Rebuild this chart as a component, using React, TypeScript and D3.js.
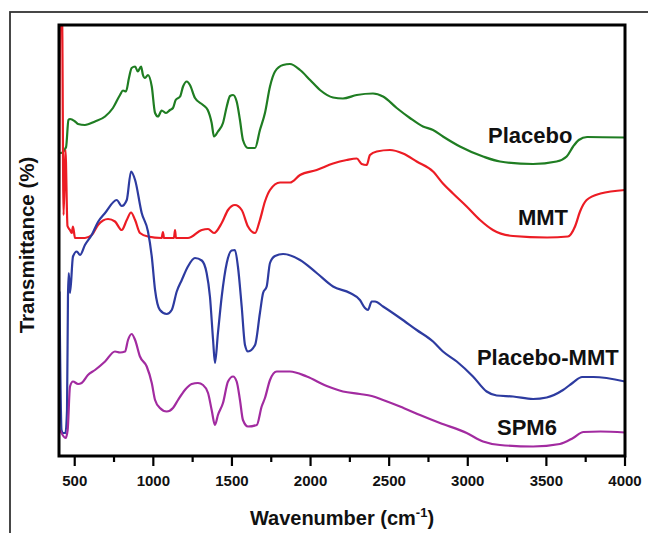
import React from "react";
import * as d3 from "d3";

type Pt = [number, number];

// wavenumber (cm-1), transmittance (offset, a.u.)
const placebo: Pt[] = [
  [406, 60.6], [413, 60.6], [445, 61.8], [460, 67.2], [470, 67.4], [502, 66.9], [521, 66.4], [565, 66.2],
  [629, 66.9], [693, 67.9], [743, 69.6], [788, 72.2], [807, 73.1], [826, 72.9], [845, 75.6], [862, 77.6],
  [884, 77.9], [901, 76.9], [922, 77.9], [934, 76.2], [947, 75.6], [966, 76.2], [990, 73.9], [1011, 68.6],
  [1030, 67.9], [1053, 69.1], [1081, 68.6], [1106, 69.2], [1125, 69.6], [1142, 71.2], [1170, 71.9],
  [1189, 73.9], [1213, 74.9], [1233, 74.2], [1265, 71.6], [1316, 70.2], [1346, 69.2], [1371, 66.6],
  [1386, 63.9], [1411, 64.9], [1443, 66.6], [1467, 69.9], [1488, 72.0], [1507, 72.2], [1530, 70.9],
  [1551, 67.2], [1570, 63.2], [1602, 61.6], [1647, 61.6], [1678, 65.2], [1710, 68.6], [1742, 73.9],
  [1774, 76.9], [1825, 78.2], [1869, 78.4], [1933, 77.2], [1997, 75.2], [2060, 73.2], [2143, 71.7],
  [2206, 71.5], [2294, 72.2], [2397, 72.5], [2461, 71.9], [2548, 69.6], [2632, 67.6], [2715, 65.9],
  [2779, 65.2], [2842, 63.9], [2950, 61.9], [3097, 59.9], [3205, 58.9], [3415, 58.4], [3565, 58.9],
  [3629, 59.9], [3670, 61.9], [3706, 63.2], [3759, 63.8], [4000, 63.7],
];

const mmt: Pt[] = [
  [400, 48.8], [410, 90], [419, 90], [429, 48.2], [441, 61.2], [454, 46.0], [470, 45.2], [481, 44.6],
  [489, 45.9], [502, 43.6], [565, 43.6], [608, 44.2], [648, 46.2], [712, 47.4], [756, 46.9], [799, 45.2],
  [831, 47.2], [858, 48.7], [884, 47.2], [915, 44.6], [966, 43.9], [1053, 43.6], [1061, 44.8], [1068, 43.6],
  [1131, 43.6], [1138, 45.2], [1144, 43.6], [1220, 43.6], [1308, 45.2], [1348, 45.4], [1386, 44.6],
  [1435, 46.6], [1475, 49.2], [1519, 50.2], [1562, 49.2], [1602, 45.9], [1647, 44.6], [1678, 47.2],
  [1710, 50.9], [1742, 53.2], [1806, 54.7], [1869, 54.7], [1933, 56.2], [2039, 57.2], [2143, 58.5],
  [2230, 59.2], [2294, 59.5], [2325, 58.4], [2357, 58.2], [2378, 60.2], [2421, 60.9], [2505, 61.2],
  [2588, 60.5], [2675, 58.9], [2779, 56.9], [2842, 54.5], [2906, 52.5], [2993, 49.9], [3078, 47.2],
  [3160, 45.2], [3288, 44.0], [3504, 43.7], [3637, 43.9], [3682, 45.9], [3714, 48.9], [3756, 51.2],
  [3844, 52.5], [4000, 53.2],
];

const placeboMmt: Pt[] = [
  [403, 32.9], [416, 5.2], [425, 4.6], [441, 4.6], [451, 9.2], [457, 31.8], [462, 36.6], [470, 32.6],
  [489, 39.9], [513, 40.9], [534, 40.2], [565, 42.2], [608, 44.2], [648, 46.8], [693, 48.6], [767, 51.2],
  [799, 50.0], [831, 51.2], [858, 56.9], [884, 55.2], [926, 48.6], [966, 44.9], [990, 39.9], [1011, 33.2],
  [1042, 29.2], [1085, 28.4], [1117, 29.2], [1149, 32.9], [1181, 35.2], [1220, 37.9], [1265, 39.6],
  [1308, 39.1], [1339, 36.6], [1360, 31.9], [1380, 23.2], [1392, 18.6], [1411, 24.6], [1435, 31.9],
  [1467, 38.6], [1498, 41.1], [1519, 41.2], [1538, 37.9], [1562, 29.9], [1583, 22.2], [1602, 20.9],
  [1647, 22.2], [1678, 28.6], [1698, 32.6], [1721, 33.9], [1742, 38.6], [1774, 40.0], [1825, 40.4],
  [1933, 39.2], [2039, 36.6], [2143, 33.9], [2251, 32.6], [2314, 31.2], [2346, 29.6], [2365, 29.2],
  [2389, 30.9], [2410, 30.9], [2461, 29.9], [2569, 27.6], [2675, 25.2], [2779, 22.9], [2842, 20.9],
  [2930, 18.9], [3033, 15.9], [3120, 12.9], [3184, 12.1], [3288, 11.9], [3415, 11.4], [3502, 11.7],
  [3606, 13.2], [3670, 14.7], [3727, 15.8], [3799, 15.8], [4000, 14.9],
];

const spm6: Pt[] = [
  [406, 5.2], [442, 3.6], [455, 5.2], [470, 13.9], [489, 14.9], [521, 14.4], [544, 14.6], [584, 16.2],
  [629, 17.2], [693, 18.9], [756, 20.9], [788, 20.7], [820, 20.9], [839, 23.2], [862, 24.4], [884, 23.2],
  [915, 19.9], [958, 17.9], [990, 14.6], [1011, 11.2], [1042, 9.6], [1085, 8.9], [1125, 9.6], [1157, 11.2],
  [1201, 13.2], [1244, 14.4], [1284, 14.6], [1316, 14.2], [1348, 12.6], [1371, 9.2], [1392, 6.2],
  [1411, 8.2], [1443, 10.6], [1475, 14.9], [1507, 15.9], [1530, 14.9], [1551, 11.2], [1570, 7.2],
  [1602, 5.9], [1658, 6.2], [1689, 9.9], [1710, 11.6], [1742, 15.2], [1785, 16.9], [1869, 16.9],
  [1976, 15.9], [2103, 14.0], [2206, 12.9], [2314, 12.4], [2389, 12.0], [2461, 11.2], [2569, 9.9],
  [2696, 8.2], [2823, 6.6], [2993, 4.6], [3097, 2.9], [3205, 2.2], [3415, 1.9], [3586, 2.4], [3670, 3.6],
  [3736, 4.8], [3844, 4.9], [4000, 4.7],
];

const seriesNames = ["Placebo", "MMT", "Placebo-MMT", "SPM6"];
const seriesData = [placebo, mmt, placeboMmt, spm6];
const seriesColors = ["#1f7d22", "#ec1c24", "#2d3ba0", "#a22ba0"];
const majorTicks = [500, 1000, 1500, 2000, 2500, 3000, 3500, 4000];
const minorTicks = [750, 1250, 1750, 2250, 2750, 3250, 3750];

// label anchors: wavenumber of left edge, transmittance at baseline
const labelPos: Pt[] = [[3129, 62.6], [3319, 46.2], [3058, 18.2], [3186, 4.2]];

const W = 648;
const H = 533;
const M = { left: 59, top: 25, right: 625, bottom: 456 };

export default function App() {
  const x = d3.scaleLinear().domain([400, 4000]).range([M.left, M.right]);
  const y = d3.scaleLinear().domain([0, 86.2]).range([M.bottom, M.top]);
  const line = d3
    .line<Pt>()
    .x((d) => x(d[0]))
    .y((d) => y(d[1]))
    .curve(d3.curveMonotoneX);

  const font = "'Liberation Sans', Arial, Helvetica, sans-serif";

  return (
    <svg
      width={W}
      height={H}
      style={{ position: "absolute", left: 0, top: 0, background: "#fff" }}
      fontFamily={font}
    >
      <rect x={0} y={0} width={W} height={H} fill="#fff" />
      <rect x={10} y={12} width={700} height={600} fill="none" stroke="#333" strokeWidth={1.8} />
      <defs>
        <clipPath id="plotclip">
          <rect x={M.left} y={M.top} width={M.right - M.left} height={M.bottom - M.top} />
        </clipPath>
      </defs>
      <g clipPath="url(#plotclip)">
        {seriesData.map((d, i) => (
          <path
            key={seriesNames[i]}
            d={line(d) || ""}
            fill="none"
            stroke={seriesColors[i]}
            strokeWidth={2.2}
            strokeLinejoin="round"
          />
        ))}
      </g>
      <rect
        x={M.left}
        y={M.top}
        width={M.right - M.left}
        height={M.bottom - M.top}
        fill="none"
        stroke="#000"
        strokeWidth={3}
      />
      {majorTicks.map((t) => (
        <g key={"M" + t}>
          <line x1={x(t)} x2={x(t)} y1={M.bottom} y2={M.bottom + 10} stroke="#000" strokeWidth={2.2} />
          <text x={x(t)} y={486} textAnchor="middle" fontSize={15} fontWeight="bold" fill="#111">
            {t}
          </text>
        </g>
      ))}
      {minorTicks.map((t) => (
        <line key={"m" + t} x1={x(t)} x2={x(t)} y1={M.bottom} y2={M.bottom + 6} stroke="#000" strokeWidth={2.2} />
      ))}
      {seriesNames.map((n, i) => (
        <text
          key={"l" + n}
          x={x(labelPos[i][0])}
          y={y(labelPos[i][1])}
          fontSize={22}
          fontWeight="bold"
          fill="#111"
        >
          {n}
        </text>
      ))}
      <text x={342} y={525} textAnchor="middle" fontSize={20} fontWeight="bold" fill="#111">
        Wavenumber (cm
        <tspan dy={-8} fontSize={13}>-1</tspan>
        <tspan dy={8}>)</tspan>
      </text>
      <text
        transform="translate(34,245) rotate(-90)"
        textAnchor="middle"
        fontSize={20.5}
        fontWeight="bold"
        fill="#111"
      >
        Transmittance (%)
      </text>
    </svg>
  );
}
